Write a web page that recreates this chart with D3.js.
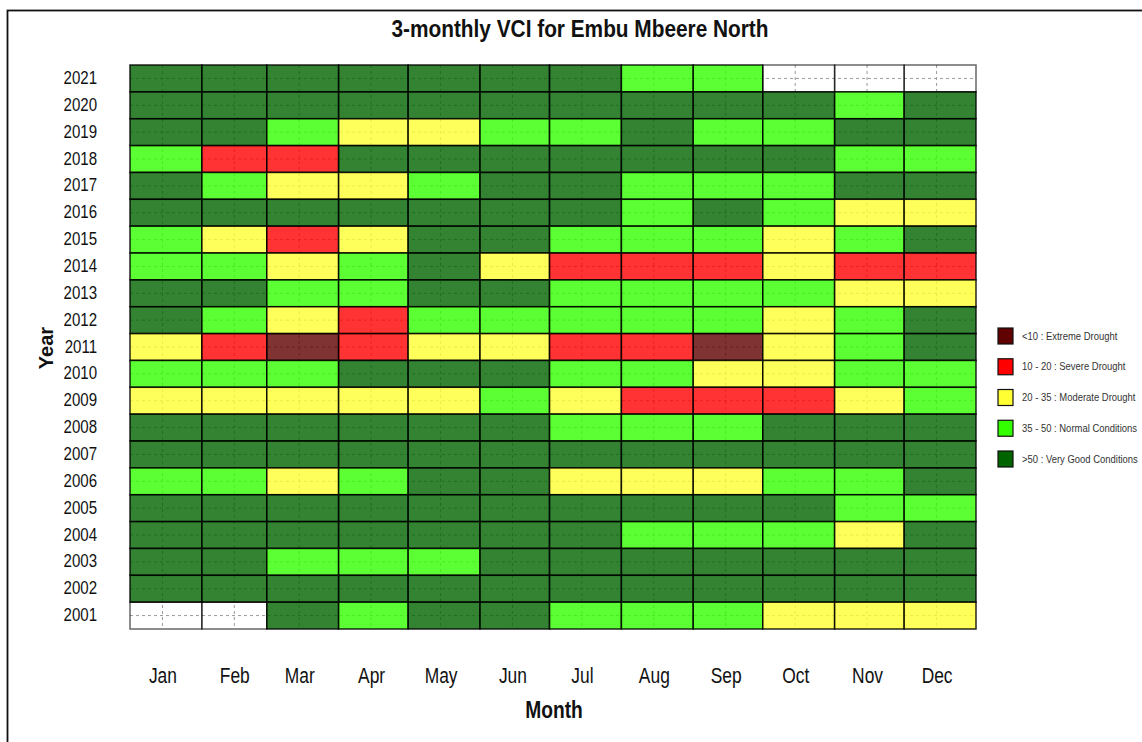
<!DOCTYPE html>
<html>
<head>
<meta charset="utf-8">
<script src="https://cdn.jsdelivr.net/npm/d3@7"></script>
<style>
  body { margin: 0; background: #fff; }
  svg { display: block; font-family: "Liberation Sans", Arial, sans-serif; }
</style>
</head>
<body>
<svg width="1142" height="742"></svg>
<script>
const years = [2021, 2020, 2019, 2018, 2017, 2016, 2015, 2014, 2013, 2012, 2011,
               2010, 2009, 2008, 2007, 2006, 2005, 2004, 2003, 2002, 2001]
const months = ["Jan", "Feb", "Mar", "Apr", "May", "Jun", "Jul", "Aug", "Sep", "Oct", "Nov", "Dec"]

// VCI class per month: M <10, R 10-20, Y 20-35, G 35-50, D >50, "-" no data
const vci2021 = ["D","D","D","D","D","D","D","G","G","-","-","-"]
const vci2020 = ["D","D","D","D","D","D","D","D","D","D","G","D"]
const vci2019 = ["D","D","G","Y","Y","G","G","D","G","G","D","D"]
const vci2018 = ["G","R","R","D","D","D","D","D","D","D","G","G"]
const vci2017 = ["D","G","Y","Y","G","D","D","G","G","G","D","D"]
const vci2016 = ["D","D","D","D","D","D","D","G","D","G","Y","Y"]
const vci2015 = ["G","Y","R","Y","D","D","G","G","G","Y","G","D"]
const vci2014 = ["G","G","Y","G","D","Y","R","R","R","Y","R","R"]
const vci2013 = ["D","D","G","G","D","D","G","G","G","G","Y","Y"]
const vci2012 = ["D","G","Y","R","G","G","G","G","G","Y","G","D"]
const vci2011 = ["Y","R","M","R","Y","Y","R","R","M","Y","G","D"]
const vci2010 = ["G","G","G","D","D","D","G","G","Y","Y","G","G"]
const vci2009 = ["Y","Y","Y","Y","Y","G","Y","R","R","R","Y","G"]
const vci2008 = ["D","D","D","D","D","D","G","G","G","D","D","D"]
const vci2007 = ["D","D","D","D","D","D","D","D","D","D","D","D"]
const vci2006 = ["G","G","Y","G","D","D","Y","Y","Y","G","G","D"]
const vci2005 = ["D","D","D","D","D","D","D","D","D","D","G","G"]
const vci2004 = ["D","D","D","D","D","D","D","G","G","G","Y","D"]
const vci2003 = ["D","D","G","G","G","D","D","D","D","D","D","D"]
const vci2002 = ["D","D","D","D","D","D","D","D","D","D","D","D"]
const vci2001 = ["-","-","D","G","D","D","G","G","G","Y","Y","Y"]

const vciRows = [vci2021, vci2020, vci2019, vci2018, vci2017, vci2016, vci2015, vci2014,
                 vci2013, vci2012, vci2011, vci2010, vci2009, vci2008, vci2007, vci2006,
                 vci2005, vci2004, vci2003, vci2002, vci2001]

const classCodes = ["M", "R", "Y", "G", "D"]
const classLabels = ["<10 : Extreme Drought", "10 - 20 : Severe Drought", "20 - 35 : Moderate Drought",
                     "35 - 50 : Normal Conditions", ">50 : Very Good Conditions"]
const classColors = ["#600000", "#ff0000", "#ffff33", "#33ff00", "#006400"]

const width = 1142
const height = 742
const plot = { left: 130, right: 976, top: 65, bottom: 629 }

const svg = d3.select("svg")

// squeeze text horizontally (the original image is narrower than tall)
function squeeze(sel, k) {
  sel.each(function () {
    const w = this.getComputedTextLength()
    d3.select(this).attr("textLength", w * k).attr("lengthAdjust", "spacingAndGlyphs")
  })
}

// outer frame
svg.append("rect")
  .attr("x", 7.5).attr("y", 10.5)
  .attr("width", 1200).attr("height", 800)
  .attr("fill", "none").attr("stroke", "#111").attr("stroke-width", 1.8)

const x = d3.scaleTime()
  .domain([new Date(2001, 0, 1), new Date(2002, 0, 1)])
  .range([plot.left, plot.right])

const y = d3.scaleBand()
  .domain(years)
  .range([plot.top, plot.bottom])

const colour = d3.scaleOrdinal().domain(classCodes).range(classColors).unknown("#fff")

const mids = months.map((m, i) => new Date(2001, i, 15))

// dashed grid behind the cells
const grid = svg.append("g").attr("stroke", "#9a9a9a").attr("stroke-width", 1).attr("stroke-dasharray", "3,3")
grid.selectAll("line.v").data(mids).join("line")
  .attr("x1", d => x(d)).attr("x2", d => x(d))
  .attr("y1", plot.top).attr("y2", plot.bottom)
grid.selectAll("line.h").data(years).join("line")
  .attr("x1", plot.left).attr("x2", plot.right)
  .attr("y1", d => y(d) + y.bandwidth() / 2).attr("y2", d => y(d) + y.bandwidth() / 2)

const cells = []
years.forEach((yr, r) => {
  vciRows[r].forEach((c, i) => cells.push({ year: yr, month: i, cls: c }))
})

svg.append("g")
  .selectAll("rect")
  .data(cells)
  .join("rect")
  .attr("x", d => x(new Date(2001, d.month, 1)))
  .attr("y", d => y(d.year))
  .attr("width", d => x(new Date(2001, d.month + 1, 1)) - x(new Date(2001, d.month, 1)))
  .attr("height", y.bandwidth())
  .attr("fill", d => colour(d.cls))
  .attr("fill-opacity", d => d.cls === "-" ? 0 : 0.8)
  .attr("stroke", "#000")
  .attr("stroke-opacity", d => d.cls === "-" ? 0.6 : 0.85)
  .attr("stroke-width", 1.5)

// y axis
const yAxis = svg.append("g")
  .attr("transform", `translate(${plot.left},0)`)
  .call(d3.axisLeft(y).tickSize(0).tickPadding(33))
yAxis.select(".domain").remove()
yAxis.selectAll("text")
  .attr("font-family", "Liberation Sans, Arial, sans-serif")
  .attr("font-size", 17.5).attr("fill", "#111")
  .call(squeeze, 0.86)

// x axis
const xAxis = svg.append("g")
  .attr("transform", `translate(0,${plot.bottom})`)
  .call(d3.axisBottom(x).tickValues(mids).tickFormat(d3.timeFormat("%b")).tickSize(0).tickPadding(38))
xAxis.select(".domain").remove()
xAxis.selectAll("text")
  .attr("font-family", "Liberation Sans, Arial, sans-serif")
  .attr("font-size", 22).attr("fill", "#111")
  .call(squeeze, 0.79)

// title and axis titles
const title = svg.append("text")
  .attr("x", 580).attr("y", 37)
  .attr("text-anchor", "middle")
  .attr("font-size", 23).attr("font-weight", "bold").attr("fill", "#111")
  .text("3-monthly VCI for Embu Mbeere North")
title.call(s => s.attr("textLength", 377).attr("lengthAdjust", "spacingAndGlyphs"))

svg.append("text")
  .attr("x", 554).attr("y", 718)
  .attr("text-anchor", "middle")
  .attr("font-size", 24).attr("font-weight", "bold").attr("fill", "#111")
  .text("Month")
  .call(squeeze, 0.8)

svg.append("text")
  .attr("transform", "translate(53,348) rotate(-90)")
  .attr("text-anchor", "middle")
  .attr("font-size", 20).attr("font-weight", "bold").attr("fill", "#111")
  .text("Year")

// legend
const ly = d3.scalePoint().domain(classCodes).range([336, 459])
const legend = svg.append("g")
legend.selectAll("rect").data(classCodes).join("rect")
  .attr("x", 998).attr("y", d => ly(d) - 8)
  .attr("width", 15).attr("height", 16)
  .attr("fill", d => colour(d))
  .attr("stroke", "#111").attr("stroke-width", 1.2)
legend.selectAll("text").data(classCodes).join("text")
  .attr("x", 1022).attr("y", d => ly(d))
  .attr("dy", "0.35em")
  .attr("font-size", 10.5).attr("fill", "#333")
  .text((d, i) => classLabels[i])
  .call(squeeze, 0.9)
</script>
</body>
</html>
